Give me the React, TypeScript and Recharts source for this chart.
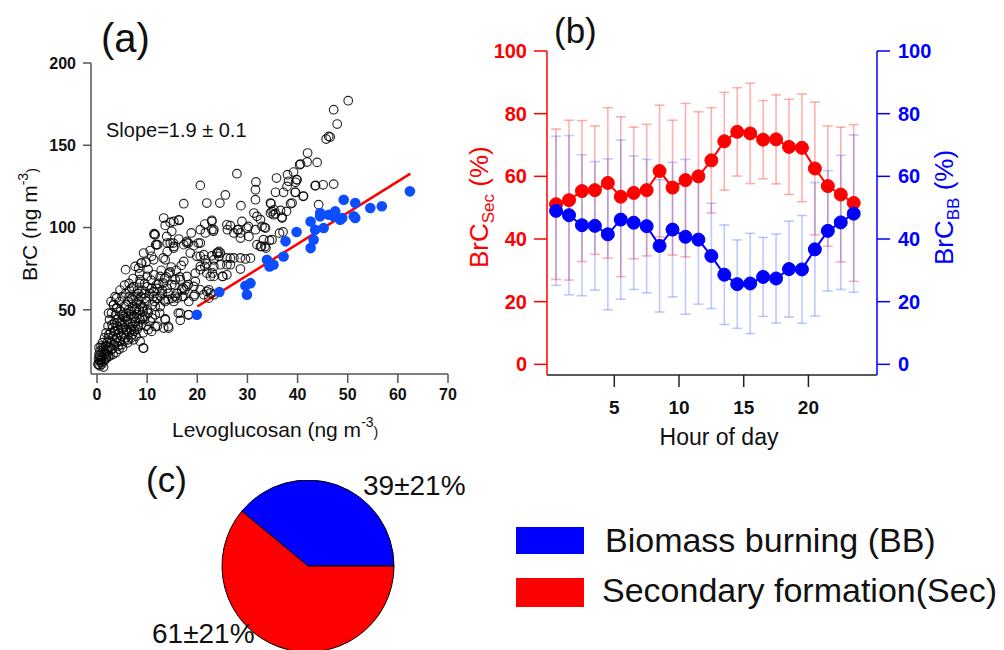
import {
  ScatterChart,
  Scatter,
  LineChart,
  Line,
  ErrorBar,
  PieChart,
  Pie,
  Cell,
  XAxis,
  YAxis,
  ReferenceLine,
} from 'recharts';

const FONT = "'Liberation Sans', Arial, sans-serif";

// (a) BrC vs levoglucosan — open circles (all samples), filled blue (BB-dominated subset)
const openPts: [number, number][] = [
  [50.1, 177.1], [47.2, 171.6], [47.9, 162.9], [46.2, 155.4], [45.7, 153.8], [46.5, 155.0], [42.0, 145.3],
  [40.6, 138.6], [43.9, 139.6], [41.9, 139.8], [39.2, 133.7], [39.8, 129.1], [38.0, 132.1], [38.2, 128.1],
  [37.9, 125.0], [39.6, 127.5], [45.1, 126.0], [43.6, 125.6], [47.2, 126.4], [41.2, 119.1], [39.6, 121.4],
  [37.2, 121.4], [35.6, 121.4], [35.8, 130.1], [38.9, 114.9], [44.2, 113.9], [27.9, 132.7], [31.7, 127.7],
  [31.6, 123.0], [31.6, 116.9], [34.7, 114.5], [34.6, 108.8], [35.2, 107.8], [36.6, 110.4], [37.8, 109.8],
  [38.6, 114.5], [36.9, 106.4], [20.6, 125.6], [25.6, 119.8], [24.5, 114.9], [21.9, 114.9], [17.3, 114.5],
  [28.7, 113.3], [31.3, 108.8], [32.6, 104.8], [33.4, 100.1], [28.9, 103.7], [28.0, 98.7], [27.3, 96.7],
  [26.6, 101.1], [26.0, 98.7], [29.9, 99.7], [28.6, 96.7], [30.3, 94.6], [31.6, 98.7], [31.9, 89.6],
  [32.6, 88.5], [33.2, 92.6], [33.7, 87.5], [34.9, 92.6], [37.1, 97.3], [22.9, 104.4], [21.5, 102.1],
  [20.6, 98.7], [23.3, 98.7], [18.8, 96.7], [16.3, 93.0], [13.6, 101.3], [14.6, 103.1], [16.4, 104.4],
  [13.3, 105.8], [11.4, 96.3], [11.7, 89.6], [14.6, 90.6], [15.3, 88.5], [14.0, 85.4], [13.2, 81.5],
  [10.9, 82.5], [9.3, 84.5], [8.8, 78.4], [7.6, 76.4], [8.3, 75.4], [5.7, 74.4], [10.0, 70.3], [11.3, 71.3],
  [12.6, 70.3], [17.3, 89.6], [17.9, 90.6], [19.3, 89.0], [19.9, 82.5], [20.6, 82.5], [21.6, 80.4],
  [21.9, 78.0], [22.9, 82.8], [23.9, 84.5], [24.3, 82.5], [24.6, 84.5], [23.3, 76.4], [24.6, 77.4],
  [25.9, 81.5], [26.6, 77.4], [27.3, 81.5], [28.6, 81.5], [29.6, 80.9], [25.9, 71.3], [25.1, 70.3],
  [23.3, 70.3], [21.9, 72.3], [20.6, 74.4], [19.6, 72.3], [17.9, 70.3], [16.6, 68.3], [17.9, 64.2],
  [19.3, 64.2], [20.6, 62.2], [21.9, 61.2], [22.6, 60.2], [23.3, 59.2], [21.3, 59.2], [15.3, 55.1],
  [16.0, 57.1], [17.3, 58.2], [18.3, 55.1], [16.6, 48.0], [16.6, 43.6], [18.3, 47.0], [13.6, 44.0],
  [14.3, 38.9], [13.3, 38.9], [12.0, 40.0], [10.9, 36.9], [9.3, 26.7], [8.6, 30.8], [7.3, 31.8],
  [11.4, 95.7], [13.9, 94.6], [12.1, 89.6], [15.2, 90.6], [18.2, 90.6], [20.2, 90.6], [21.6, 96.7],
  [23.2, 97.7], [24.1, 84.5], [21.5, 76.4], [23.0, 72.4], [18.2, 65.3], [19.5, 59.2], [16.2, 48.0],
  [18.2, 47.0], [14.2, 39.9], [13.6, 44.5], [11.6, 39.9], [9.2, 26.8], [3.9, 57.2], [3.9, 51.1],
  [3.3, 53.1], [2.3, 48.0], [6.9, 63.2], [8.6, 68.3], [8.9, 78.4], [10.2, 74.4], [9.2, 51.1], [11.6, 52.1],
  [12.6, 58.2], [14.2, 56.2], [15.6, 58.2], [17.2, 63.2], [14.9, 65.3], [13.2, 66.3], [10.9, 63.2],
  [10.2, 37.9], [6.9, 37.9], [6.2, 31.8], [4.9, 28.8], [2.3, 21.7], [0.9, 19.7], [0.3, 16.6], [1.3, 15.2],
  [15.3, 103.7], [16.3, 104.7], [11.6, 95.6], [14.9, 97.7], [17.9, 91.6], [20.6, 90.6], [22.9, 103.7],
  [22.9, 98.7], [25.9, 101.7], [28.2, 98.7], [30.2, 100.7], [28.6, 93.6], [31.9, 106.8], [33.6, 99.7],
  [35.3, 110.8], [36.9, 105.8], [33.5, 88.5], [30.6, 81.4], [28.6, 74.8], [26.6, 81.4], [25.9, 77.4],
  [24.3, 85.5], [21.3, 83.5], [18.6, 84.5], [17.3, 79.4], [15.3, 87.5], [14.0, 90.6], [11.9, 89.5],
  [11.3, 80.4], [13.6, 80.4], [23.3, 80.4], [20.6, 76.4], [22.6, 70.3], [25.0, 70.3], [19.6, 67.3],
  [15.6, 68.3], [14.3, 72.3], [16.9, 62.2], [19.3, 58.1], [22.3, 62.2], [22.3, 57.1], [11.9, 65.2],
  [11.3, 58.1], [13.6, 55.1], [40.4, 138.2], [39.9, 129.0], [39.5, 121.4], [41.1, 119.0], [43.5, 125.4],
  [34.6, 114.9], [34.9, 109.8], [35.6, 108.4], [32.9, 100.7], [36.4, 96.6], [34.4, 92.2], [32.8, 88.5],
  [8.5, 72], [9.5, 66], [10.5, 60], [11.5, 55], [12.5, 48], [13, 60], [14, 63], [9, 45], [10, 50], [11, 45],
  [12, 63], [12.8, 74], [13.5, 69], [14.8, 76], [15.8, 74], [16.8, 77], [10.6, 86], [9.8, 79], [7.2, 69],
  [6.4, 66], [5.5, 65], [4.6, 62], [3.6, 58], [2.8, 55],
  [0.2, 17], [0.3, 20], [0.4, 23], [0.5, 19], [0.6, 25], [0.7, 21], [0.8, 28], [0.9, 18], [1.0, 24],
  [1.1, 30], [1.2, 22], [0.4, 27], [0.6, 16], [1.3, 26], [1.4, 19], [1.5, 33], [1.6, 23], [1.7, 28],
  [1.8, 36], [1.9, 21], [2.0, 30], [2.1, 25], [2.2, 40], [2.3, 33], [2.4, 27], [2.5, 44], [2.6, 22],
  [2.7, 36], [2.8, 30], [2.9, 48], [3.0, 26], [3.1, 39], [3.2, 34], [3.3, 53], [3.4, 29], [3.5, 42],
  [3.6, 37], [3.7, 47], [3.8, 24], [3.9, 33], [4.0, 51], [4.1, 40], [4.2, 28], [4.3, 45], [4.4, 36],
  [4.5, 55], [4.6, 31], [4.7, 49], [4.8, 42], [4.9, 38], [5.0, 58], [5.1, 27], [5.2, 46], [5.3, 35],
  [5.4, 52], [5.5, 41], [5.6, 33], [5.7, 60], [5.8, 48], [5.9, 38], [6.0, 44], [6.1, 30], [6.2, 55],
  [6.3, 50], [6.4, 36], [6.5, 62], [6.6, 42], [6.7, 47], [6.8, 33], [6.9, 57], [7.0, 40], [7.1, 52],
  [7.2, 45], [7.3, 64], [7.4, 37], [7.5, 50], [7.6, 58], [7.7, 43], [7.8, 34], [7.9, 54], [8.0, 47],
  [8.1, 62], [8.2, 40], [8.3, 56], [8.4, 50], [8.5, 66], [8.6, 44], [8.8, 58], [9.0, 52], [9.2, 36],
  [9.4, 60], [9.6, 46], [9.8, 55], [10.0, 64], [10.2, 48], [10.4, 58], [10.6, 43], [10.8, 68], [11.0, 53],
  [11.3, 61], [11.6, 47], [12.0, 57], [12.3, 66], [12.6, 52], [13.0, 62], [13.4, 56], [13.8, 70],
  [14.2, 60], [14.6, 73], [15.0, 57], [15.5, 65], [16.0, 60], [16.5, 70], [17.0, 58], [17.5, 62],
  [0.5, 22], [0.8, 19], [1.0, 17], [1.2, 27], [1.5, 24], [1.7, 20], [2.0, 23], [2.2, 28], [2.4, 35],
  [2.6, 31], [2.8, 26], [3.0, 41], [3.2, 23], [3.4, 37], [3.6, 31], [3.8, 44], [4.0, 30], [4.2, 38],
  [4.4, 26], [4.6, 43], [4.8, 34], [5.0, 47], [5.2, 39], [5.4, 31], [5.6, 45], [5.8, 53], [6.0, 37],
  [6.2, 46], [6.4, 58], [6.6, 39], [6.8, 49], [7.0, 35], [7.2, 56], [7.4, 46], [7.6, 40], [7.8, 51],
  [8.0, 38], [8.2, 60], [8.4, 45], [8.6, 53], [8.8, 41], [9.0, 62], [9.2, 49], [9.4, 44], [9.6, 57],
  [9.8, 40],
];

const bbPts: [number, number][] = [
  [19.9, 47.0], [24.4, 60.8], [29.9, 59.2], [29.6, 64.6], [30.6, 66.2], [33.9, 80.4], [34.4, 76.4],
  [35.2, 77.4], [37.2, 82.4], [37.6, 91.6], [39.8, 97.3], [42.6, 87.5], [43.2, 92.6], [42.6, 103.7],
  [43.5, 98.7], [44.5, 106.8], [44.5, 108.8], [45.2, 99.7], [46.2, 107.8], [47.2, 106.8], [47.5, 109.8],
  [48.5, 104.8], [49.2, 116.9], [48.9, 105.8], [51.2, 106.8], [51.5, 114.9], [51.5, 105.8], [54.5, 111.9],
  [56.8, 112.9], [62.4, 122.0],
];

const fitEnds = [
  { x: 20, y: 52 },
  { x: 62.5, y: 132.8 },
];
const slopeText = 'Slope=1.9 ± 0.1';

// (b) diurnal contributions (%), mean and standard deviation
const hours = [0.5, 1.5, 2.5, 3.5, 4.5, 5.5, 6.5, 7.5, 8.5, 9.5, 10.5, 11.5, 12.5, 13.5, 14.5, 15.5, 16.5, 17.5, 18.5, 19.5, 20.5, 21.5, 22.5, 23.5];
const secPct = [51.1, 52.4, 55.3, 55.6, 57.9, 53.5, 54.7, 55.6, 61.7, 56.4, 58.8, 60.0, 65.1, 71.2, 74.2, 73.7, 71.7, 71.8, 69.4, 69.1, 62.5, 56.9, 54.2, 51.5];
const secSd = [24, 25.5, 22.5, 20.5, 24, 25.5, 21, 21, 21, 21.5, 24.5, 20.6, 16.8, 15.6, 14.1, 16, 12.5, 14.2, 15.2, 17.2, 21.2, 19.2, 21.5, 25];
const bbPct = [49.0, 47.6, 44.4, 44.2, 41.5, 46.2, 45.2, 44.1, 37.8, 43.0, 40.7, 39.8, 34.6, 28.6, 25.6, 25.8, 27.9, 27.4, 30.4, 30.3, 36.7, 42.6, 45.3, 48.1];
const bbSd = [23.8, 25.4, 22.5, 20.5, 24.1, 25.4, 21.3, 21.3, 21.1, 21.5, 24.7, 20.6, 16.8, 15.9, 14.1, 16, 12.6, 14.2, 15.3, 17.2, 21.3, 19.2, 21.4, 25.1];

// (c) overall contributions
const pieNames = ['Biomass burning (BB)', 'Secondary formation(Sec)'];
const pieShares = [39, 61];
const pieSd = [21, 21];
const pieColors = ['#0000ff', '#ff0000'];

const openData = openPts.map(([x, y]) => ({ x, y }));
const bbData = bbPts.map(([x, y]) => ({ x, y }));
const hourRows = hours.map((hour, i) => ({
  hour,
  sec: secPct[i],
  secSd: secSd[i],
  bb: bbPct[i],
  bbSd: bbSd[i],
}));
const pieRows = pieShares.map((value, i) => ({ name: pieNames[i], value }));

const tickA = { fill: '#111', fontSize: 16, fontWeight: 700, fontFamily: FONT };

export default function App() {
  return (
    <div
      style={{
        position: 'absolute',
        left: 0,
        top: 0,
        width: 1004,
        height: 650,
        overflow: 'hidden',
        background: '#fff',
        fontFamily: FONT,
      }}
    >
      {/* panel (a) */}
      <div style={{ position: 'absolute', left: 0, top: 0 }}>
        <ScatterChart width={460} height={450} margin={{ top: 63, right: 12, bottom: 46, left: 31 }}>
          <XAxis
            type="number"
            dataKey="x"
            domain={[-1.2, 70]}
            ticks={[0, 10, 20, 30, 40, 50, 60, 70]}
            height={30}
            tickSize={9}
            tickMargin={6}
            axisLine={{ stroke: '#555', strokeWidth: 1.5 }}
            tickLine={{ stroke: '#555', strokeWidth: 1.5 }}
            tick={tickA}
            allowDataOverflow
          />
          <YAxis
            type="number"
            dataKey="y"
            domain={[11, 200]}
            ticks={[50, 100, 150, 200]}
            width={60}
            tickSize={8}
            tickMargin={7}
            axisLine={{ stroke: '#555', strokeWidth: 1.5 }}
            tickLine={{ stroke: '#555', strokeWidth: 1.5 }}
            tick={tickA}
            allowDataOverflow
          />
          <Scatter
            data={openData}
            isAnimationActive={false}
            shape={(p: any) => (
              <circle cx={p.cx} cy={p.cy} r={4.3} fill="none" stroke="#000" strokeOpacity={0.85} strokeWidth={1.15} />
            )}
          />
          <Scatter
            data={bbData}
            isAnimationActive={false}
            shape={(p: any) => <circle cx={p.cx} cy={p.cy} r={5.3} fill="#0b4dff" />}
          />
          <ReferenceLine segment={fitEnds} stroke="#ff0000" strokeWidth={2.5} />
        </ScatterChart>
      </div>

      {/* panel (b) */}
      <div style={{ position: 'absolute', left: 460, top: 0 }}>
        <LineChart width={544} height={450} data={hourRows} margin={{ top: 51, right: 67, bottom: 45, left: 27 }}>
          <XAxis
            type="number"
            dataKey="hour"
            domain={[-0.2, 25.3]}
            ticks={[5, 10, 15, 20]}
            height={30}
            tickSize={12}
            tickMargin={14}
            axisLine={{ stroke: '#222', strokeWidth: 1.5 }}
            tickLine={{ stroke: '#222', strokeWidth: 1.5 }}
            tick={{ fill: '#111', fontSize: 19, fontWeight: 700, fontFamily: FONT }}
            allowDataOverflow
          />
          <YAxis
            yAxisId="l"
            domain={[-3.4, 100]}
            ticks={[0, 20, 40, 60, 80, 100]}
            width={60}
            tickSize={13}
            tickMargin={7}
            axisLine={{ stroke: '#ff0000', strokeWidth: 1.5 }}
            tickLine={{ stroke: '#ff0000', strokeWidth: 1.5 }}
            tick={{ fill: '#ff0000', fontSize: 20, fontWeight: 700, fontFamily: FONT }}
            allowDataOverflow
          />
          <YAxis
            yAxisId="r"
            orientation="right"
            domain={[-3.4, 100]}
            ticks={[0, 20, 40, 60, 80, 100]}
            width={60}
            tickSize={13}
            tickMargin={8}
            axisLine={{ stroke: '#0000ff', strokeWidth: 1.5 }}
            tickLine={{ stroke: '#0000ff', strokeWidth: 1.5 }}
            tick={{ fill: '#0000ff', fontSize: 20, fontWeight: 700, fontFamily: FONT }}
            allowDataOverflow
          />
          <Line
            yAxisId="l"
            dataKey="sec"
            stroke="#ff0000"
            strokeWidth={2}
            dot={{ r: 6.5, fill: '#ff0000', stroke: '#ff0000', strokeWidth: 1 }}
            isAnimationActive={false}
          >
            <ErrorBar dataKey="secSd" width={5} stroke="rgba(255,60,60,0.4)" strokeWidth={1.6} direction="y" />
          </Line>
          <Line
            yAxisId="r"
            dataKey="bb"
            stroke="#0000ff"
            strokeWidth={2}
            dot={{ r: 6.5, fill: '#0000ff', stroke: '#0000ff', strokeWidth: 1 }}
            isAnimationActive={false}
          >
            <ErrorBar dataKey="bbSd" width={5} stroke="rgba(70,100,255,0.35)" strokeWidth={1.6} direction="y" />
          </Line>
        </LineChart>
      </div>

      {/* panel (c) */}
      <div style={{ position: 'absolute', left: 208, top: 480 }}>
        <PieChart width={200} height={200} margin={{ top: 0, right: 0, bottom: 0, left: 0 }}>
          <Pie
            data={pieRows}
            dataKey="value"
            cx={100}
            cy={86}
            outerRadius={86}
            startAngle={0}
            endAngle={360}
            stroke="#000"
            strokeWidth={1}
            isAnimationActive={false}
          >
            {pieRows.map((r, i) => (
              <Cell key={r.name} fill={pieColors[i]} />
            ))}
          </Pie>
        </PieChart>
      </div>

      {/* text overlay */}
      <svg
        width={1004}
        height={650}
        style={{ position: 'absolute', left: 0, top: 0, pointerEvents: 'none' }}
        fontFamily={FONT}
      >
        <text x={101} y={52} fontSize={40} fill="#111">(a)</text>
        <text x={106} y={137} fontSize={20} fill="#111">{slopeText}</text>
        <text transform="translate(37,281) rotate(-90)" fontSize={21} fill="#111">
          BrC (ng m<tspan dy={-9} fontSize={14}>-3</tspan>
          <tspan dy={9} fontSize={14}>)</tspan>
        </text>
        <text x={172} y={437} fontSize={21} fill="#111">
          Levoglucosan (ng m<tspan dy={-10} fontSize={14}>-3</tspan>
          <tspan dy={10} fontSize={14}>)</tspan>
        </text>

        <text x={554} y={43} fontSize={35} fill="#111">(b)</text>
        <text transform="translate(488,268) rotate(-90)" fontSize={26} fill="#ff0000">
          BrC<tspan dy={6} fontSize={17}>Sec</tspan>
          <tspan dy={-6}> (%)</tspan>
        </text>
        <text transform="translate(953,265) rotate(-90)" fontSize={26} fill="#0000ff">
          BrC<tspan dy={6} fontSize={17}>BB</tspan>
          <tspan dy={-6}> (%)</tspan>
        </text>
        <text x={719} y={445} fontSize={23} fill="#111" textAnchor="middle">Hour of day</text>

        <text x={146} y={492} fontSize={35} fill="#111">(c)</text>
        <text x={363} y={495} fontSize={28} fill="#111">{`${pieShares[0]}±${pieSd[0]}%`}</text>
        <text x={152} y={643} fontSize={28} fill="#111">{`${pieShares[1]}±${pieSd[1]}%`}</text>

        <rect x={516} y={527} width={68} height={27} fill={pieColors[0]} />
        <text x={605} y={552} fontSize={34} fill="#111">{pieNames[0]}</text>
        <rect x={516} y={578} width={68} height={29} fill={pieColors[1]} />
        <text x={602} y={602} fontSize={34} fill="#111">{pieNames[1]}</text>
      </svg>
    </div>
  );
}
